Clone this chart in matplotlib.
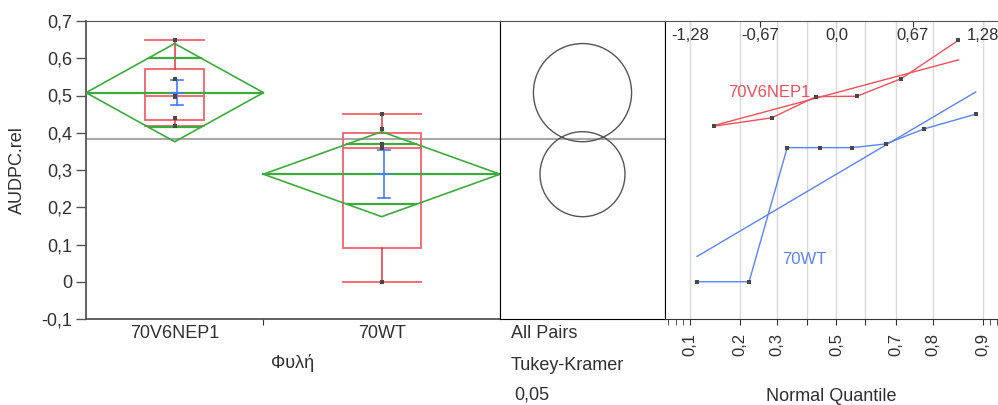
import matplotlib
matplotlib.use('Agg')
import matplotlib.pyplot as plt
from matplotlib.patches import Circle, Polygon, Rectangle
from statistics import NormalDist
import numpy as np

plt.rcParams['font.family'] = ['Liberation Sans', 'DejaVu Sans']

# AUDPC.rel per strain
groups = ['70V6NEP1', '70WT']
audpc_nep1 = [0.418, 0.44, 0.497, 0.498, 0.545, 0.648]
audpc_wt = [0.0, 0.0, 0.36, 0.36, 0.36, 0.37, 0.41, 0.45]
samples = [audpc_nep1, audpc_wt]
t_crit = 2.179  # t(0.975, df=12), also Tukey-Kramer for two groups

y_ticks = [-0.1, 0.0, 0.1, 0.2, 0.3, 0.4, 0.5, 0.6, 0.7]
y_labels = ['-0,1', '0', '0,1', '0,2', '0,3', '0,4', '0,5', '0,6', '0,7']
prob_ticks = [0.1, 0.2, 0.3, 0.4, 0.5, 0.6, 0.7, 0.8, 0.9]
prob_labels = ['0,1', '0,2', '0,3', '', '0,5', '', '0,7', '0,8', '0,9']
prob_minor = [0.07, 0.08, 0.09, 0.91, 0.92]
z_ticks = [-1.28, -0.67, 0.0, 0.67, 1.28]
z_labels = ['-1,28', '-0,67', '0,0', '0,67', '1,28']

GREEN = '#3cab3c'
BOX_RED = '#f2606c'
WHISK_RED = '#e8303c'
BLUE = '#3f7bff'
QQ_RED = '#f0505c'
QQ_BLUE = '#5a84f6'
DOT = '#484848'
TXT = '#303030'

W, H = 998, 405
fig = plt.figure(figsize=(W / 100, H / 100), dpi=100)


def px_axes(x0, x1, y0, y1):
    return fig.add_axes([x0 / W, 1 - y1 / H, (x1 - x0) / W, (y1 - y0) / H])


ax = px_axes(86, 500, 21, 319)
axc = px_axes(500, 665, 21, 319)
axq = px_axes(665, 997, 21, 319)

# summary statistics
arrs = [np.array(s) for s in samples]
ns = [len(a) for a in arrs]
means = [a.mean() for a in arrs]
sds = [a.std(ddof=1) for a in arrs]
ss = sum(((a - m) ** 2).sum() for a, m in zip(arrs, means))
sp = np.sqrt(ss / (sum(ns) - len(arrs)))
halfs = [t_crit * sp / np.sqrt(n) for n in ns]
grand = np.concatenate(arrs).mean()

# ---- oneway panel ----
edges = np.concatenate([[0], np.cumsum(ns)])
centers = (edges[:-1] + edges[1:]) / 2
ax.set_xlim(edges[0], edges[-1])
ax.set_ylim(-0.1, 0.7)
ax.axhline(grand, color='#a8a8a8', lw=1.5, zorder=1)

for i, a in enumerate(arrs):
    lo, hi = edges[i], edges[i + 1]
    c, w = centers[i], (hi - lo) / 2
    m, h = means[i], halfs[i]
    se = sds[i] / np.sqrt(ns[i])

    # quantile box
    q1, med, q3 = np.percentile(a, [25, 50, 75], method='weibull')
    iqr = q3 - q1
    wlo = a[a >= q1 - 1.5 * iqr].min()
    whi = a[a <= q3 + 1.5 * iqr].max()
    bw = 0.33 * (hi - lo)
    ax.add_patch(Rectangle((c - bw / 2, q1), bw, q3 - q1, fill=False,
                           ec=BOX_RED, lw=1.3, zorder=2))
    ax.plot([c - bw / 2, c + bw / 2], [med, med], color=BOX_RED, lw=1.3, zorder=2)
    ax.plot([c, c], [q3, whi], color=WHISK_RED, lw=1.1, zorder=2)
    ax.plot([c, c], [q1, wlo], color=WHISK_RED, lw=1.1, zorder=2)
    for yv in (wlo, whi):
        ax.plot([c - bw / 2, c + bw / 2], [yv, yv], color=BOX_RED, lw=1.3, zorder=2)

    # means diamond with overlap marks
    ax.add_patch(Polygon([(lo, m), (c, m + h), (hi, m), (c, m - h)], closed=True,
                         fill=False, ec=GREEN, lw=1.2, zorder=3))
    ax.plot([lo, hi], [m, m], color=GREEN, lw=1.6, zorder=3)
    ov = h / np.sqrt(2)
    ow = w * (1 - 1 / np.sqrt(2))
    for yv in (m - ov, m + ov):
        ax.plot([c - ow, c + ow], [yv, yv], color=GREEN, lw=1.6, zorder=3)

    # mean +/- std error
    cx = c + 0.07
    ax.plot([cx, cx], [m - se, m + se], color=BLUE, lw=1.2, zorder=4)
    for yv in (m - se, m, m + se):
        ax.plot([cx - 0.2, cx + 0.2], [yv, yv], color=BLUE, lw=1.2, zorder=4)

    ax.plot([c] * ns[i], a, 's', ms=2.6, mew=0, color=DOT, zorder=5)

ax.set_yticks(y_ticks, y_labels)
ax.set_xticks([edges[1]], [''])
ax.set_xticks(centers, groups, minor=True)
ax.tick_params(axis='y', direction='out', length=7, width=1, color='#555555',
               labelsize=13, labelcolor=TXT, pad=3)
ax.tick_params(axis='x', which='major', direction='out', length=4.5, color='#333333')
ax.tick_params(axis='x', which='minor', length=0, labelsize=13, labelcolor=TXT, pad=4)
for side in ('left', 'bottom', 'top'):
    ax.spines[side].set_color('#555555')
ax.spines['left'].set_linewidth(1.3)
ax.spines['bottom'].set_linewidth(1.3)
ax.spines['right'].set_color('black')

ax.set_ylabel('AUDPC.rel', fontsize=13, color=TXT)
ax.yaxis.set_label_coords((17.5 - 86) / 414, 0.5)
ax.yaxis.label.set_va('center')
ax.set_xlabel('Φυλή', fontsize=13, color=TXT)
ax.xaxis.set_label_coords(0.5, (319 - 363) / 298)
ax.xaxis.label.set_va('center')

# ---- comparison circles ----
xr = 0.8 * 165 / 298
axc.set_xlim(-xr / 2, xr / 2)
axc.set_ylim(-0.1, 0.7)
axc.axhline(grand, color='#a8a8a8', lw=1.5, zorder=1)
for m, h in zip(means, halfs):
    axc.add_patch(Circle((0, m), h, fill=False, ec='#555555', lw=1.0, zorder=2))
axc.set_xticks([])
axc.set_yticks([])
for side in axc.spines:
    axc.spines[side].set_color('black')
axc.spines['top'].set_color('#555555')

for label, yy, xx in [('All Pairs', 333, 511), ('Tukey-Kramer', 365, 511), ('0,05', 395, 514)]:
    fig.text(xx / W, 1 - yy / H, label, fontsize=13, color=TXT, va='center', ha='left')

# ---- normal quantile plot ----
nd = NormalDist()
z0, zs = 836.4, 114.2
axq.set_xlim((665 - z0) / zs, (997 - z0) / zs)
axq.set_ylim(-0.1, 0.7)
axq.set_xticks([nd.inv_cdf(p) for p in prob_ticks], prob_labels, rotation=90)
axq.set_xticks([nd.inv_cdf(p) for p in prob_minor], minor=True)
axq.tick_params(axis='x', which='major', direction='out', length=4, color='#333333',
                labelsize=12, labelcolor=TXT, pad=6)
axq.tick_params(axis='x', which='minor', direction='out', length=4, color='#333333')
axq.grid(axis='x', which='major', color='#dadada', lw=1, zorder=0)
axq.set_axisbelow(True)
axq.set_yticks([])
axq.spines['right'].set_visible(False)
axq.spines['left'].set_color('black')
axq.spines['top'].set_color('#555555')
axq.spines['bottom'].set_color('#333333')

# z-scale ticks along the top, labels sit inside the frame
top = axq.secondary_xaxis('top')
top.set_xticks(z_ticks, [''] * len(z_ticks))
top.tick_params(direction='in', length=4, color='#333333')
top.spines['top'].set_visible(False)
for zt, zl in zip(z_ticks, z_labels):
    axq.text(zt, 1 - 14 / 298, zl, transform=axq.get_xaxis_transform(), fontsize=12,
             color=TXT, ha='center', va='center', zorder=6)

for a, m, sd, col in zip(arrs, means, sds, [QQ_RED, QQ_BLUE]):
    n = len(a)
    z = [nd.inv_cdf((k + 1) / (n + 1)) for k in range(n)]
    axq.plot(z, np.sort(a), color=col, lw=1.0, zorder=3)
    axq.plot([z[0], z[-1]], [m + sd * z[0], m + sd * z[-1]], color=col, lw=1.0, zorder=3)
    axq.plot(z, np.sort(a), 's', ms=2.6, mew=0, color=DOT, zorder=4)

axq.text((728 - z0) / zs, 0.509, groups[0], color=QQ_RED, fontsize=12, va='center')
axq.text((782 - z0) / zs, 0.061, groups[1], color=QQ_BLUE, fontsize=12, va='center')

axq.set_xlabel('Normal Quantile', fontsize=13, color=TXT)
axq.xaxis.set_label_coords(0.5, (319 - 396.7) / 298)
axq.xaxis.label.set_va('center')

fig.savefig('out.png', dpi=100)
